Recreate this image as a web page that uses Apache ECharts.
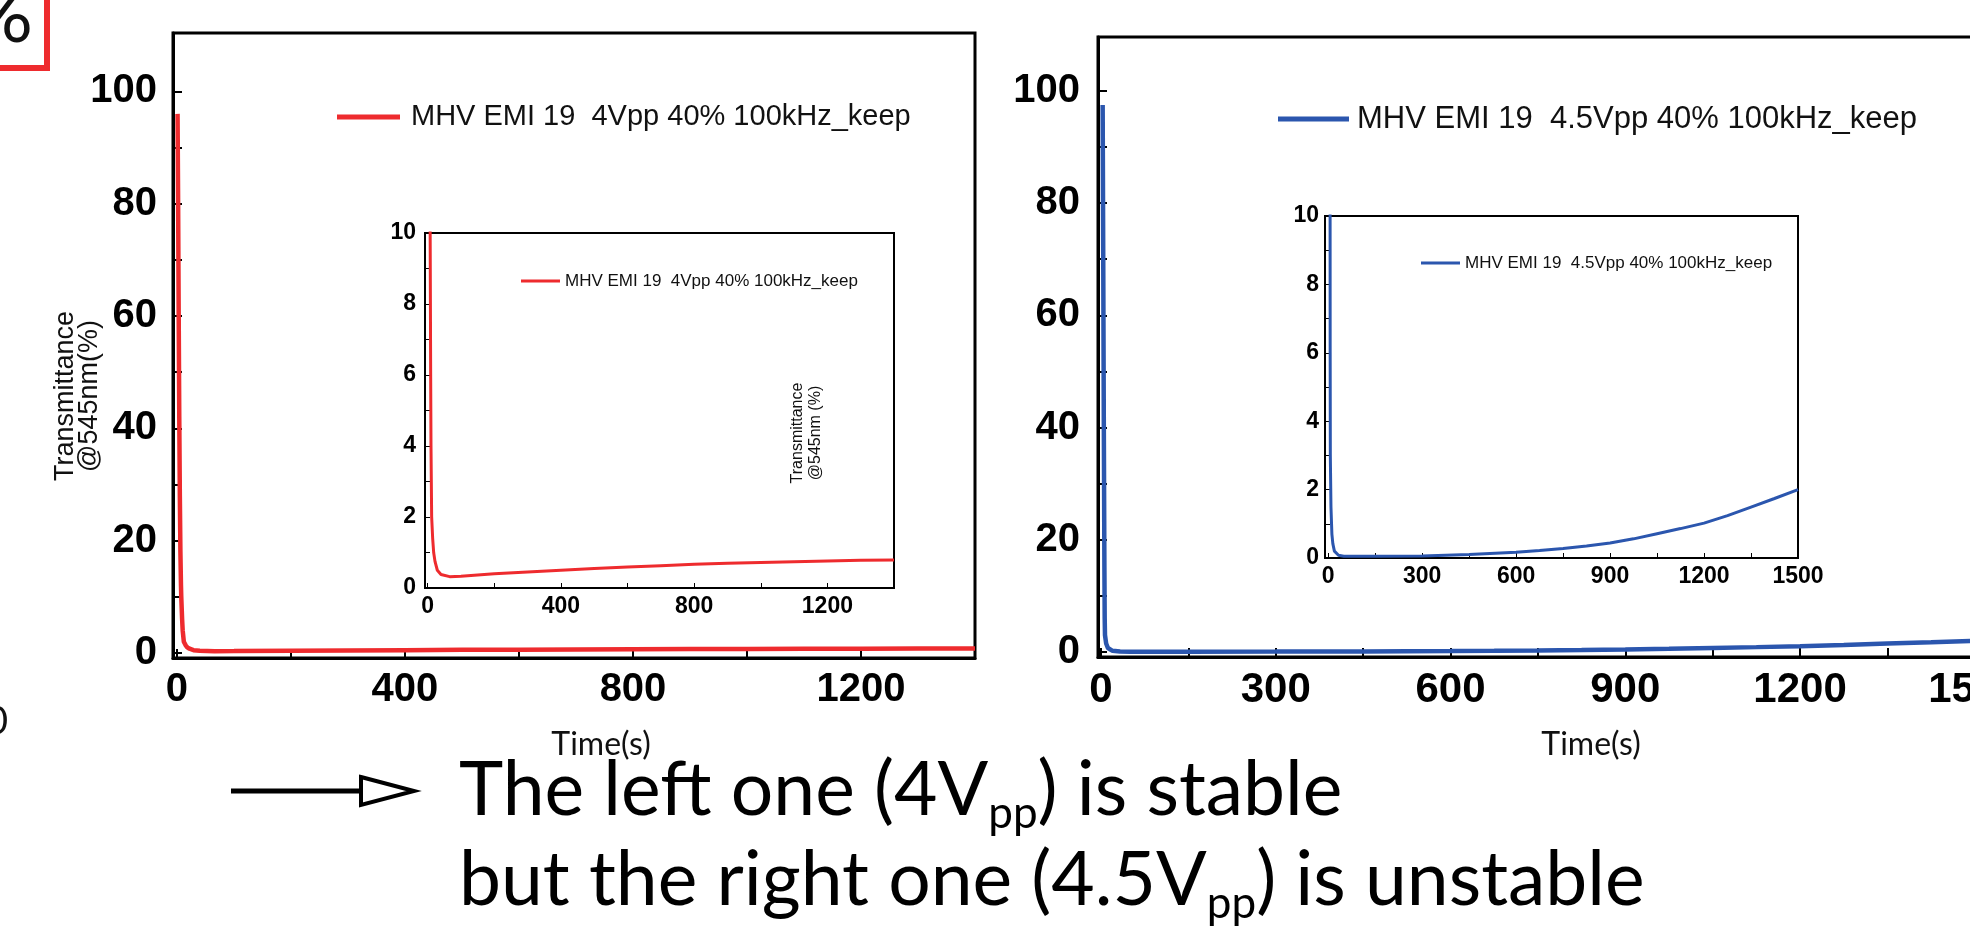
<!DOCTYPE html>
<html>
<head>
<meta charset="utf-8">
<title>Transmittance @545nm vs time</title>
<script src="https://cdn.jsdelivr.net/npm/echarts@6/dist/echarts.min.js"></script>
<style>
    html, body { margin: 0; padding: 0; background: #fff; overflow: hidden; }
    #chart { width: 1970px; height: 926px; }
</style>
</head>
<body>
<div id="chart"></div>
<script>
// 4Vpp curve (red) - time in s, transmittance in %
var redName = 'MHV EMI 19  4Vpp 40% 100kHz_keep';
var redTime  = [1, 2, 3, 4, 5, 6, 7, 7.5, 9, 10, 12, 15, 18, 22, 29, 40, 66, 100, 200, 300, 400, 500, 600, 700, 800, 900, 1000, 1100, 1200, 1300, 1400];
var redTrans = [96, 80, 60, 42, 28, 18, 12, 10, 6, 4, 2, 1.4, 1.0, 0.75, 0.5, 0.38, 0.32, 0.33, 0.4, 0.45, 0.5, 0.55, 0.59, 0.63, 0.67, 0.7, 0.72, 0.74, 0.76, 0.78, 0.79];

// 4.5Vpp curve (blue)
var blueName = 'MHV EMI 19  4.5Vpp 40% 100kHz_keep';
var blueTime  = [3, 4, 5, 6, 6.5, 7, 9, 12, 15, 20, 33, 50, 150, 300, 450, 600, 675, 750, 825, 900, 975, 1050, 1125, 1200, 1275, 1350, 1425, 1500];
var blueTrans = [97.5, 70, 40, 15, 6, 3, 1.5, 0.7, 0.42, 0.2, 0.08, 0.05, 0.05, 0.06, 0.1, 0.17, 0.22, 0.28, 0.35, 0.44, 0.56, 0.71, 0.86, 1.02, 1.24, 1.49, 1.74, 2.0];

// tick labels / tick positions
var leftXLabels  = [0, 400, 800, 1200];
var leftXTicks   = [0, 200, 400, 600, 800, 1000, 1200, 1400];
var rightXLabels = [0, 300, 600, 900, 1200, 1500];
var rightXTicks  = [0, 150, 300, 450, 600, 750, 900, 1050, 1200, 1350, 1500];
var mainYLabels  = [0, 20, 40, 60, 80, 100];
var mainYTicks   = [0, 10, 20, 30, 40, 50, 60, 70, 80, 90, 100];
var insetYLabels = [0, 2, 4, 6, 8, 10];
var insetYTicks  = [0, 1, 2, 3, 4, 5, 6, 7, 8, 9, 10];

var RED = '#ee2b2e';
var BLUE = '#2b56ae';
var ARIAL = '"Liberation Sans", Arial, sans-serif';
var SLIDE = 'Lato, "Open Sans", sans-serif';

function pairs(xs, ys) {
    return xs.map(function (x, i) { return [x, ys[i]]; });
}

function valueAxis(grid, min, max, labels, ticks, size, margin, lineW, tickLen) {
    return {
        type: 'value', gridIndex: grid, min: min, max: max,
        axisLine: { show: true, onZero: false, lineStyle: { color: '#000', width: lineW } },
        axisTick: { show: true, inside: true, length: tickLen, customValues: ticks,
                    lineStyle: { color: '#000', width: Math.max(1, lineW - 1) } },
        axisLabel: { customValues: labels, fontSize: size, fontWeight: 'bold',
                     fontFamily: ARIAL, color: '#000', margin: margin,
                     formatter: function (v) { return String(v); } },  // no thousands comma
        splitLine: { show: false }
    };
}

function frame(left, top, width, height, bw) {
    return { left: left, top: top, width: width, height: height, show: true,
             borderColor: '#000', borderWidth: bw, backgroundColor: '#fff',
             outerBoundsMode: 'none', containLabel: false };
}

function legendFor(name, color, left, midY, iconW, iconH, size, gap) {
    return {
        data: [name], left: left, top: midY - size / 2, padding: 0,
        icon: 'rect', itemWidth: iconW, itemHeight: iconH, selectedMode: false,
        itemStyle: { color: color, borderWidth: 0 },
        textStyle: { fontSize: size, lineHeight: size, fontFamily: ARIAL, color: '#111',
                     padding: [0, 0, 0, gap] }
    };
}

function lineSeries(name, x, y, gi, color, width) {
    return {
        type: 'line', name: name, xAxisIndex: gi, yAxisIndex: gi,
        data: pairs(x, y), symbol: 'none', showSymbol: false, clip: true,
        lineStyle: { color: color, width: width }, itemStyle: { color: color }
    };
}

var chart = echarts.init(document.getElementById('chart'));
chart.setOption({
    animation: false,
    backgroundColor: '#fff',
    grid: [
        frame(173, 33, 802, 625, 3),     // left main
        frame(425, 233, 469, 355, 2),    // left inset
        frame(1098, 37, 906, 620, 3),    // right main (runs past the edge)
        frame(1325, 216, 473, 342, 2)    // right inset
    ],
    xAxis: [
        valueAxis(0, -7, 1400, leftXLabels, leftXTicks, 40, 12, 3, 9),
        valueAxis(1, -8, 1400, leftXLabels, leftXTicks, 23, 7, 2, 5),
        valueAxis(2, -5, 1550, rightXLabels, rightXTicks, 42, 12, 3, 9),
        valueAxis(3, -10, 1500, rightXLabels, rightXTicks, 23, 7, 2, 5)
    ],
    yAxis: [
        valueAxis(0, -0.9, 110.4, mainYLabels, mainYTicks, 40, 16, 3, 9),
        valueAxis(1, 0, 10, insetYLabels, insetYTicks, 23, 9, 2, 5),
        valueAxis(2, -0.9, 109.6, mainYLabels, mainYTicks, 40, 18, 3, 9),
        valueAxis(3, 0, 10, insetYLabels, insetYTicks, 23, 6, 2, 5)
    ],
    legend: [
        legendFor(redName, RED, 337, 117, 63, 5, 29, 6),
        legendFor(redName, RED, 521, 281, 39, 3, 17, 0),
        legendFor(blueName, BLUE, 1278, 119, 71, 5, 31, 3),
        legendFor(blueName, BLUE, 1421, 263, 39, 3, 17, 0)
    ],
    series: [
        lineSeries(redName, redTime, redTrans, 0, RED, 4.5),
        lineSeries(redName, redTime, redTrans, 1, RED, 3),
        lineSeries(blueName, blueTime, blueTrans, 2, BLUE, 4.5),
        lineSeries(blueName, blueTime, blueTrans, 3, BLUE, 3)
    ],
    graphic: [
        // axis titles
        { type: 'text', x: 78, y: 396, rotation: Math.PI / 2,
          style: { text: 'Transmittance\n@545nm(%)', fontSize: 27, lineHeight: 24, fontFamily: ARIAL,
                   align: 'center', verticalAlign: 'middle', fill: '#111' } },
        { type: 'text', x: 807, y: 433, rotation: Math.PI / 2,
          style: { text: 'Transmittance\n@545nm (%)', fontSize: 16, lineHeight: 18, fontFamily: ARIAL,
                   align: 'center', verticalAlign: 'middle', fill: '#111' } },
        { type: 'text', x: 601, y: 745,
          style: { text: 'Time(s)', fontSize: 32, fontFamily: SLIDE, align: 'center', verticalAlign: 'middle', fill: '#111' } },
        { type: 'text', x: 1591, y: 745,
          style: { text: 'Time(s)', fontSize: 32, fontFamily: SLIDE, align: 'center', verticalAlign: 'middle', fill: '#111' } },
        // cropped slide bits at the left edge
        { type: 'rect', shape: { x: -20, y: -20, width: 67, height: 88 },
          style: { fill: 'none', stroke: RED, lineWidth: 6 } },
        { type: 'text', x: 33, y: 16,
          style: { text: '%', fontSize: 80, fontFamily: SLIDE, align: 'right', verticalAlign: 'middle', fill: '#111' } },
        { type: 'text', x: 8, y: 722,
          style: { text: '0', fontSize: 38, fontFamily: SLIDE, align: 'right', verticalAlign: 'middle', fill: '#111' } },
        // arrow + conclusion
        { type: 'line', shape: { x1: 231, y1: 791, x2: 364, y2: 791 },
          style: { stroke: '#000', lineWidth: 5 } },
        { type: 'polygon', shape: { points: [[361, 777], [414, 791], [361, 805]] },
          style: { fill: '#fff', stroke: '#000', lineWidth: 4 } },
        { type: 'text', x: 459, y: 746,
          style: {
              text: '{m|The left one (4V}{s|pp}{m|) is stable}\n{m|but the right one (4.5V}{s|pp}{m|) is unstable}',
              align: 'left', verticalAlign: 'top',
              rich: {
                  m: { fontSize: 75, lineHeight: 90, fontFamily: SLIDE, fill: '#000' },
                  s: { fontSize: 44, lineHeight: 82, fontFamily: SLIDE, fill: '#000', verticalAlign: 'bottom' }
              }
          } }
    ]
});
</script>
</body>
</html>
